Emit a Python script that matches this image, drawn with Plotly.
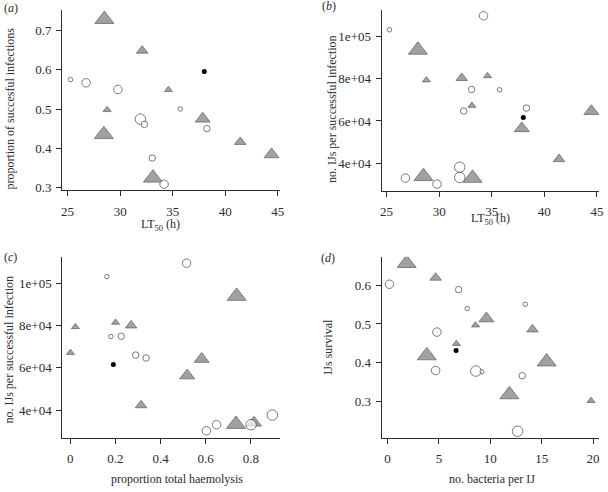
import plotly.graph_objects as go

W, H = 608, 492

# ---------------- data ----------------
# Panel (a): LT50 (h) vs proportion of successful infections
a_circ_x = [25.28, 26.76, 29.79, 35.71, 31.93, 32.30, 38.25, 33.05, 34.18]
a_circ_y = [0.575, 0.567, 0.550, 0.500, 0.474, 0.461, 0.450, 0.375, 0.308]
a_circ_c = [1, 3, 3, 1, 4, 2, 2, 2, 3]
a_tri_x = [28.50, 32.09, 34.59, 28.76, 37.85, 41.42, 28.45, 44.40, 33.12]
a_tri_y = [0.729, 0.649, 0.549, 0.498, 0.475, 0.416, 0.435, 0.384, 0.324]
a_tri_c = [4, 2, 1, 1, 3, 2, 4, 3, 4]
a_dot_x = [38.0]
a_dot_y = [0.596]

# Panel (b): LT50 (h) vs no. IJs per successful infection
b_circ_x = [25.28, 34.22, 33.09, 35.75, 32.34, 38.30, 31.96, 31.96, 26.79, 29.80]
b_circ_y = [103100, 109700, 74900, 74750, 64700, 66100, 38150, 33300, 33000, 30200]
b_circ_c = [1, 3, 2, 1, 2, 2, 4, 4, 3, 3]
b_tri_x = [27.98, 28.79, 32.15, 34.60, 33.12, 37.86, 41.40, 44.47, 28.51, 33.18]
b_tri_y = [93500, 79300, 80300, 81300, 67300, 56500, 42000, 64600, 33800, 33000]
b_tri_c = [4, 1, 2, 1, 1, 3, 2, 3, 4, 4]
b_dot_x = [38.0]
b_dot_y = [61600]

# Panel (c): proportion total haemolysis vs no. IJs per successful infection
c_circ_x = [0.162, 0.515, 0.180, 0.226, 0.290, 0.336, 0.603, 0.648, 0.801, 0.895]
c_circ_y = [103100, 109400, 74750, 74900, 66000, 64600, 30200, 33100, 33100, 37650]
c_circ_c = [1, 3, 1, 2, 2, 2, 3, 3, 4, 4]
c_tri_x = [0.023, 0.001, 0.201, 0.270, 0.737, 0.582, 0.518, 0.314, 0.814, 0.734]
c_tri_y = [79300, 67100, 81400, 80000, 93800, 64100, 56300, 42300, 34000, 33300]
c_tri_c = [1, 1, 1, 2, 4, 3, 3, 2, 3, 4]
c_dot_x = [0.191]
c_dot_y = [61500]

# Panel (d): no. bacteria per IJ vs IJs survival
d_circ_x = [0.19, 6.92, 7.76, 13.40, 4.81, 4.68, 9.17, 8.59, 13.11, 12.66]
d_circ_y = [0.603, 0.589, 0.540, 0.551, 0.479, 0.3795, 0.376, 0.378, 0.366, 0.222]
d_circ_c = [3, 2, 1, 1, 3, 3, 1, 4, 2, 4]
d_tri_x = [1.86, 4.68, 8.56, 9.62, 6.70, 14.10, 3.82, 15.48, 11.86, 19.80]
d_tri_y = [0.657, 0.620, 0.497, 0.514, 0.449, 0.486, 0.418, 0.402, 0.317, 0.301]
d_tri_c = [4, 2, 1, 3, 1, 2, 4, 4, 4, 1]
d_dot_x = [6.67]
d_dot_y = [0.4315]

# tick labels
lt_ticks = [25, 30, 35, 40, 45]
prop_ticks = [0.3, 0.4, 0.5, 0.6, 0.7]
ijs_ticks = [40000, 60000, 80000, 100000]
ijs_ticktext = ["4e+04", "6e+04", "8e+04", "1e+05"]
haem_ticks = [0, 0.2, 0.4, 0.6, 0.8]
bact_ticks = [0, 5, 10, 15, 20]
surv_ticks = [0.3, 0.4, 0.5, 0.6]

# ---------------- styles ----------------
FONT = "Times New Roman, Liberation Serif, DejaVu Serif, serif"
INK = "#2b2b2b"
CIRC_PX = {1: 4.5, 2: 6.5, 3: 8.5, 4: 10.5}
TRI_PX = {1: 7.0, 2: 10.0, 3: 13.0, 4: 16.5}

fig = go.Figure()

panels = [
    dict(ax="", circ=(a_circ_x, a_circ_y, a_circ_c), tri=(a_tri_x, a_tri_y, a_tri_c), dot=(a_dot_x, a_dot_y)),
    dict(ax="2", circ=(b_circ_x, b_circ_y, b_circ_c), tri=(b_tri_x, b_tri_y, b_tri_c), dot=(b_dot_x, b_dot_y)),
    dict(ax="3", circ=(c_circ_x, c_circ_y, c_circ_c), tri=(c_tri_x, c_tri_y, c_tri_c), dot=(c_dot_x, c_dot_y)),
    dict(ax="4", circ=(d_circ_x, d_circ_y, d_circ_c), tri=(d_tri_x, d_tri_y, d_tri_c), dot=(d_dot_x, d_dot_y)),
]

for p in panels:
    xa, ya = "x" + p["ax"], "y" + p["ax"]
    tx, ty, tc = p["tri"]
    fig.add_trace(go.Scatter(
        x=tx, y=ty, mode="markers", xaxis=xa, yaxis=ya, showlegend=False,
        marker=dict(symbol="triangle-up", size=[TRI_PX[c] for c in tc],
                    color="#7a7a7a", line=dict(color=INK, width=0.8))))
    cx, cy, cc = p["circ"]
    fig.add_trace(go.Scatter(
        x=cx, y=cy, mode="markers", xaxis=xa, yaxis=ya, showlegend=False,
        marker=dict(symbol="circle", size=[CIRC_PX[c] for c in cc],
                    color="white", line=dict(color=INK, width=0.9))))
    dx, dy = p["dot"]
    fig.add_trace(go.Scatter(
        x=dx, y=dy, mode="markers", xaxis=xa, yaxis=ya, showlegend=False,
        marker=dict(symbol="circle", size=5, color="black", line=dict(color="black", width=0))))


def px_dom_x(l, r):
    return [l / W, r / W]


def px_dom_y(t, b):
    return [1 - b / H, 1 - t / H]


axis_common = dict(showline=True, linecolor=INK, linewidth=1, ticks="outside", ticklen=5,
                   tickwidth=1, tickcolor=INK, showgrid=False, zeroline=False,
                   tickfont=dict(family=FONT, size=13, color=INK))

fig.update_layout(
    width=W, height=H, margin=dict(l=0, r=0, t=0, b=0),
    paper_bgcolor="white", plot_bgcolor="white",
    font=dict(family=FONT, color=INK),
    xaxis=dict(domain=px_dom_x(60.7, 281), range=[24.47, 45.18], tickvals=lt_ticks,
               anchor="y", ticklabelstandoff=4, **axis_common),
    yaxis=dict(domain=px_dom_y(10, 192.3), range=[0.2924, 0.753], tickvals=prop_ticks,
               ticktext=["0.3", "0.4", "0.5", "0.6", "0.7"], anchor="x", ticklabelstandoff=2, **axis_common),
    xaxis2=dict(domain=px_dom_x(384, 604), range=[24.53, 45.2], tickvals=lt_ticks,
                anchor="y2", ticklabelstandoff=4, **axis_common),
    yaxis2=dict(domain=px_dom_y(10, 192.7), range=[27050, 112480], tickvals=ijs_ticks,
                ticktext=ijs_ticktext, anchor="x2", ticklabelstandoff=2, **axis_common),
    xaxis3=dict(domain=px_dom_x(61, 281.7), range=[-0.035, 0.931], tickvals=haem_ticks,
                ticktext=["0", "0.2", "0.4", "0.6", "0.8"], anchor="y3", ticklabelstandoff=4, **axis_common),
    yaxis3=dict(domain=px_dom_y(259.3, 442), range=[27040, 112490], tickvals=ijs_ticks,
                ticktext=ijs_ticktext, anchor="x3", ticklabelstandoff=2, **axis_common),
    xaxis4=dict(domain=px_dom_x(384, 604), range=[-0.577, 20.58], tickvals=bact_ticks,
                anchor="y4", ticklabelstandoff=4, **axis_common),
    yaxis4=dict(domain=px_dom_y(259.3, 442), range=[0.2059, 0.6744], tickvals=surv_ticks,
                ticktext=["0.3", "0.4", "0.5", "0.6"], anchor="x4", ticklabelstandoff=2, **axis_common),
)


def ann(text, px, py, angle=0, size=12, xanchor="center"):
    fig.add_annotation(text=text, x=px / W, y=1 - py / H, xref="paper", yref="paper",
                       showarrow=False, textangle=angle, xanchor=xanchor, yanchor="middle",
                       font=dict(family=FONT, size=size, color=INK))


# axis titles
ann("proportion of succesful infections", 8.3, 109.5, angle=-90)
ann("LT<sub>50</sub> (h)", 160.7, 227)
ann("no. IJs per successful infection", 334.5, 110.5, angle=-90)
ann("LT<sub>50</sub> (h)", 494, 221)
ann("no. IJs per successful infection", 6.7, 353.5, angle=-90)
ann("proportion total haemolysis", 177, 484)
ann("IJs survival", 330, 350, angle=-90)
ann("no. bacteria per IJ", 495.7, 484)

# panel labels
ann("(<i>a</i>)", 0, 8.5, xanchor="left")
ann("(<i>b</i>)", 322, 6, xanchor="left")
ann("(<i>c</i>)", 0.5, 259.5, xanchor="left")
ann("(<i>d</i>)", 321, 261, xanchor="left")

fig.write_html("out.html", config={"displayModeBar": False},
               post_script="document.body.style.margin='0';document.body.style.padding='0';"
                           "document.documentElement.style.overflow='hidden';")
